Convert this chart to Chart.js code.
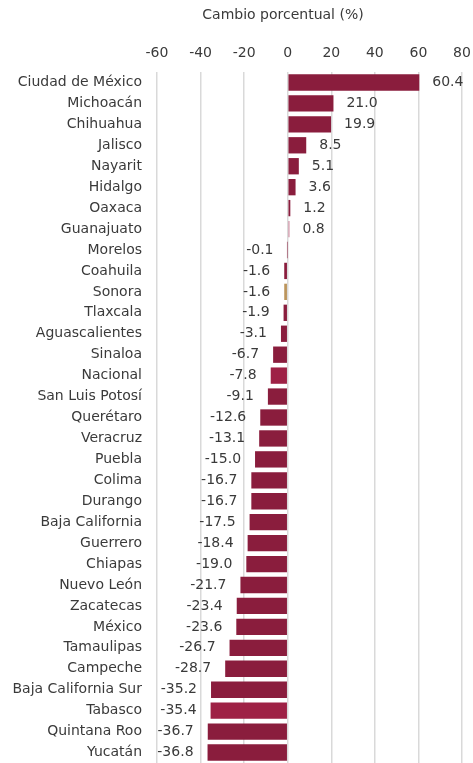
<!DOCTYPE html>
<html>
<head>
<meta charset="utf-8">
<script src="https://cdn.jsdelivr.net/npm/chart.js@4.4.1/dist/chart.umd.min.js"></script>
<style>
  html, body { margin: 0; padding: 0; background: #fff; overflow: hidden; }
</style>
</head>
<body>
<canvas id="chart" width="473" height="763"></canvas>
<script>
// Data
const states = [
  'Ciudad de México', 'Michoacán', 'Chihuahua', 'Jalisco', 'Nayarit', 'Hidalgo',
  'Oaxaca', 'Guanajuato', 'Morelos', 'Coahuila', 'Sonora', 'Tlaxcala',
  'Aguascalientes', 'Sinaloa', 'Nacional', 'San Luis Potosí', 'Querétaro',
  'Veracruz', 'Puebla', 'Colima', 'Durango', 'Baja California', 'Guerrero',
  'Chiapas', 'Nuevo León', 'Zacatecas', 'México', 'Tamaulipas', 'Campeche',
  'Baja California Sur', 'Tabasco', 'Quintana Roo', 'Yucatán'
];
const change = [
  60.4, 21.0, 19.9, 8.5, 5.1, 3.6,
  1.2, 0.8, -0.1, -1.6, -1.6, -1.9,
  -3.1, -6.7, -7.8, -9.1, -12.6,
  -13.1, -15.0, -16.7, -16.7, -17.5, -18.4,
  -19.0, -21.7, -23.4, -23.6, -26.7, -28.7,
  -35.2, -35.4, -36.7, -36.8
];
const xTicks = [-60, -40, -20, 0, 20, 40, 60, 80];
const titleText = 'Cambio porcentual (%)';

const FONT = "'DejaVu Sans', sans-serif";
const SIZE = 14;
const TEXT = '#3a3a3a';

// Bar colours: most states maroon, a few highlighted
const colourFor = (name) => {
  if (name === 'Nacional' || name === 'Tabasco') return '#9E2145';
  if (name === 'Sonora') return '#BC955C';
  if (name === 'Guanajuato') return '#C97E95';
  return '#8A1D3D';
};

// Value labels just past the end of each bar
const valueLabels = {
  id: 'valueLabels',
  afterDatasetsDraw(chart) {
    const ctx = chart.ctx;
    const meta = chart.getDatasetMeta(0);
    ctx.save();
    ctx.font = SIZE + 'px ' + FONT;
    ctx.fillStyle = TEXT;
    ctx.textBaseline = 'middle';
    meta.data.forEach((bar, i) => {
      const v = change[i];
      const end = chart.scales.x.getPixelForValue(v);
      if (v >= 0) {
        ctx.textAlign = 'left';
        ctx.fillText(v.toFixed(1), end + 13, bar.y);
      } else {
        ctx.textAlign = 'right';
        ctx.fillText(v.toFixed(1), end - 14, bar.y);
      }
    });
    ctx.restore();
  }
};

// Title above the axis labels
const topTitle = {
  id: 'topTitle',
  afterDraw(chart) {
    const ctx = chart.ctx;
    ctx.save();
    ctx.font = SIZE + 'px ' + FONT;
    ctx.fillStyle = TEXT;
    ctx.textAlign = 'center';
    ctx.textBaseline = 'middle';
    ctx.fillText(titleText, 283, 15);
    ctx.restore();
  }
};

new Chart(document.getElementById('chart'), {
  type: 'bar',
  data: {
    labels: states,
    datasets: [{
      data: change,
      backgroundColor: states.map(colourFor),
      borderWidth: 0,
      categoryPercentage: 1,
      barPercentage: 0.78
    }]
  },
  options: {
    indexAxis: 'y',
    responsive: false,
    animation: false,
    layout: { padding: { left: 10, right: 11, top: 38, bottom: 0 } },
    plugins: {
      legend: { display: false },
      tooltip: { enabled: false }
    },
    scales: {
      x: {
        position: 'top',
        min: -60,
        max: 80,
        afterBuildTicks(scale) {
          scale.ticks = xTicks.map(v => ({ value: v }));
        },
        afterFit(scale) {
          scale.height = 34;
          scale.paddingLeft = 0;
          scale.paddingRight = 0;
        },
        grid: { color: '#d9d9d9', lineWidth: 1.5, drawTicks: false },
        border: { display: false },
        ticks: { color: TEXT, font: { family: FONT, size: SIZE }, padding: 10 }
      },
      y: {
        afterFit(scale) {
          scale.width = 147;
          scale.paddingTop = 0;
          scale.paddingBottom = 0;
        },
        grid: { display: false, drawTicks: false },
        border: { display: false },
        ticks: { color: TEXT, font: { family: FONT, size: SIZE }, padding: 15, autoSkip: false }
      }
    }
  },
  plugins: [valueLabels, topTitle]
});
</script>
</body>
</html>
